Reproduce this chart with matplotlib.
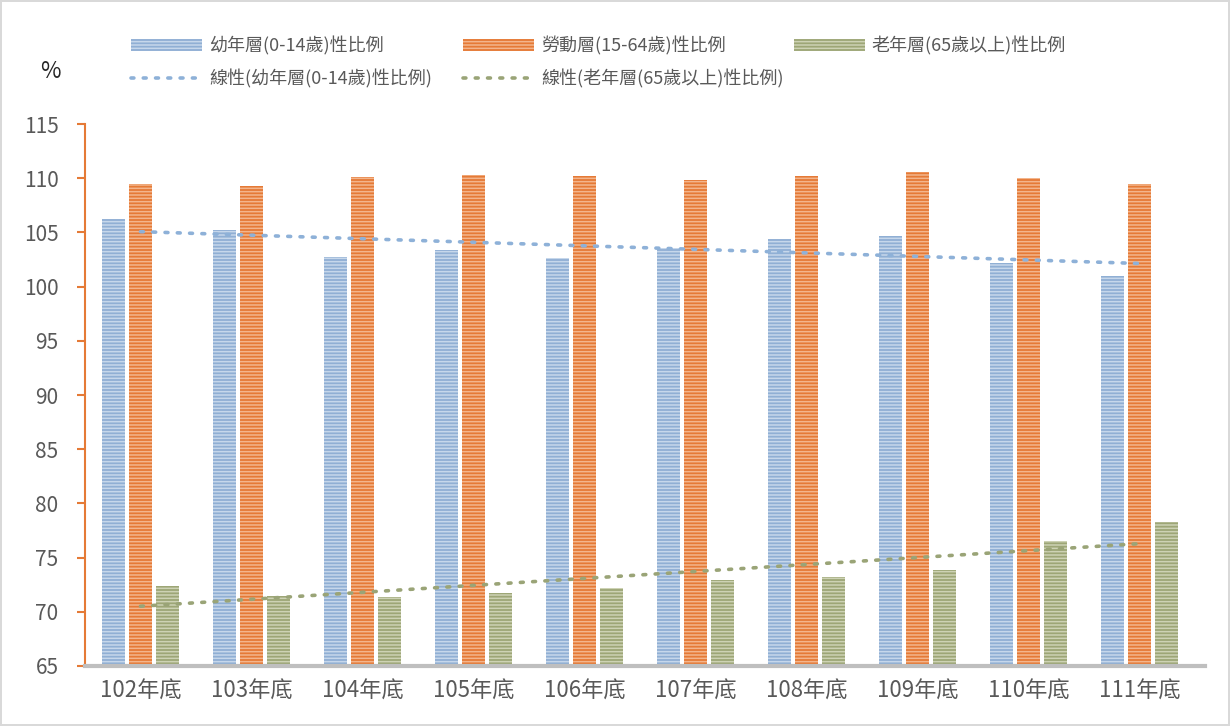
import numpy as np
import matplotlib.pyplot as plt

plt.rcParams['font.family'] = ['Noto Sans CJK TC', 'DejaVu Sans']
plt.rcParams['hatch.linewidth'] = 1.1

# 資料
years = ['102年底', '103年底', '104年底', '105年底', '106年底',
         '107年底', '108年底', '109年底', '110年底', '111年底']
child = [106.2, 105.2, 102.7, 103.4, 102.6, 103.6, 104.4, 104.7, 102.2, 101.0]
labor = [109.5, 109.3, 110.1, 110.3, 110.2, 109.8, 110.2, 110.6, 110.0, 109.5]
elder = [72.4, 71.5, 71.4, 71.7, 72.2, 72.9, 73.2, 73.9, 76.5, 78.3]

c_blue, c_blue_l = '#90AFD4', '#C6D7EB'
c_org, c_org_l = '#E57A36', '#F3B58C'
c_grn, c_grn_l = '#9DA676', '#CDD2B4'
txt = '#595959'

fig = plt.figure(figsize=(12.3, 7.26), dpi=100)
fig.patch.set_edgecolor('#D9D9D9')
fig.patch.set_linewidth(1.5)
ax = fig.add_axes([85 / 1230, 60 / 726, 1120 / 1230, 542 / 726])

x = np.arange(len(years))
w = 0.207
step = 0.243
bot = 65
b1 = ax.bar(x - step, np.array(child) - bot, w, bottom=bot, color=c_blue,
            edgecolor=c_blue_l, linewidth=0, hatch='-----', label='幼年層(0-14歲)性比例')
b2 = ax.bar(x, np.array(labor) - bot, w, bottom=bot, color=c_org,
            edgecolor=c_org_l, linewidth=0, hatch='-----', label='勞動層(15-64歲)性比例')
b3 = ax.bar(x + step, np.array(elder) - bot, w, bottom=bot, color=c_grn,
            edgecolor=c_grn_l, linewidth=0, hatch='-----', label='老年層(65歲以上)性比例')

# 線性趨勢線
k = np.arange(1, len(years) + 1)
p1 = np.polyfit(k, child, 1)
p3 = np.polyfit(k, elder, 1)
l1, = ax.plot(x, np.polyval(p1, k), color='#8EB1D8', lw=2.6, ls=(0, (0.8, 2.6)),
              dash_capstyle='round', label='線性(幼年層(0-14歲)性比例)')
l3, = ax.plot(x, np.polyval(p3, k), color='#9AA477', lw=2.6, ls=(0, (0.8, 2.6)),
              dash_capstyle='round', label='線性(老年層(65歲以上)性比例)')

ax.set_xlim(-0.5, len(years) - 0.5 + 0.09)
ax.set_ylim(65, 115)
ax.set_yticks(range(65, 116, 5))
ax.set_xticks(x)
ax.set_xticklabels(years, fontsize=16, color=txt)
ax.tick_params(axis='y', labelsize=15, labelcolor=txt, color=c_org, length=6, width=1.5, pad=13)
ax.tick_params(axis='x', length=0, pad=10)
for s in ['top', 'right']:
    ax.spines[s].set_visible(False)
ax.spines['left'].set_color(c_org)
ax.spines['left'].set_linewidth(1.5)
ax.spines['bottom'].set_color('#BFBFBF')
ax.spines['bottom'].set_linewidth(3)

fig.text(40 / 1230, 1 - 72 / 726, '%', fontsize=16, color='#262626', va='center')

# 圖例：三欄，各自定位
cols = [([b1, l1], 115), ([b2, l3], 447), ([b3], 778)]
for hs, px in cols:
    lg = fig.legend(hs, [h.get_label() for h in hs], loc='upper left',
                    bbox_to_anchor=(px / 1230, 1 - 20 / 726),
                    frameon=False, fontsize=13, handlelength=3.9, handleheight=0.6,
                    labelspacing=0.75, handletextpad=0.4, labelcolor=txt)

fig.savefig('out.png', dpi=100)
